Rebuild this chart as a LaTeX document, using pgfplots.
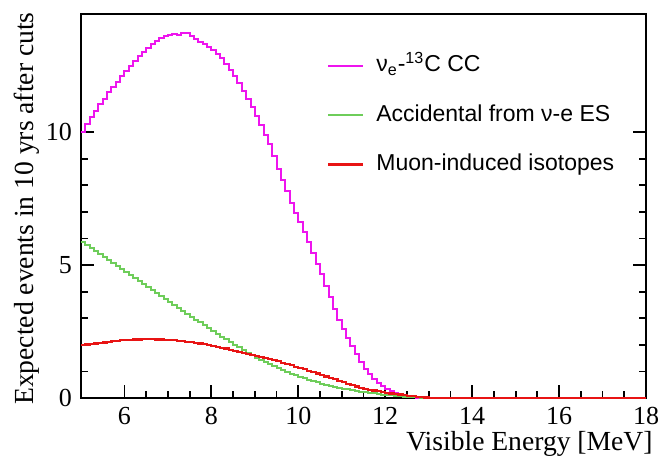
\documentclass[border=0pt]{standalone}
\usepackage{pgfplots}
\pgfplotsset{compat=1.18}
\usepackage{fontspec}
\setmainfont{Liberation Serif}
\newfontfamily\lsans{Liberation Sans}
\definecolor{cmag}{RGB}{238,20,238}
\definecolor{cgrn}{RGB}{110,205,90}
\definecolor{cred}{RGB}{232,20,20}
\pgfplotstableread{
x y
5.0 10.0
5.1 10.3
5.2 10.55
5.3 10.8
5.4 11.05
5.5 11.25
5.6 11.5
5.7 11.7
5.8 11.9
5.9 12.1
6.0 12.3
6.1 12.5
6.2 12.68
6.3 12.85
6.4 13.0
6.5 13.15
6.6 13.3
6.7 13.42
6.8 13.52
6.9 13.6
7.0 13.65
7.1 13.68
7.2 13.66
7.3 13.73
7.4 13.73
7.5 13.6
7.6 13.5
7.7 13.4
7.8 13.3
7.9 13.2
8.0 13.1
8.1 12.95
8.2 12.78
8.3 12.55
8.4 12.35
8.5 12.1
8.6 11.85
8.7 11.55
8.8 11.25
8.9 10.95
9.0 10.6
9.1 10.25
9.2 9.9
9.3 9.55
9.4 9.1
9.5 8.6
9.6 8.2
9.7 7.8
9.8 7.35
9.9 6.95
10.0 6.6
10.1 6.25
10.2 5.85
10.3 5.45
10.4 5.05
10.5 4.65
10.6 4.2
10.7 3.8
10.8 3.35
10.9 2.95
11.0 2.6
11.1 2.25
11.2 1.95
11.3 1.65
11.4 1.35
11.5 1.1
11.6 0.9
11.7 0.72
11.8 0.57
11.9 0.44
12.0 0.33
12.1 0.25
12.2 0.18
12.3 0.12
12.4 0.08
12.5 0.05
12.6 0.03
12.7 0.015
12.8 0.005
12.9 0
18.0 0
}\magtab
\pgfplotstableread{
x y
5.0 5.85
5.1 5.74
5.2 5.63
5.3 5.51
5.4 5.40
5.5 5.29
5.6 5.18
5.7 5.07
5.8 4.96
5.9 4.84
6.0 4.73
6.1 4.62
6.2 4.51
6.3 4.40
6.4 4.28
6.5 4.17
6.6 4.06
6.7 3.95
6.8 3.84
6.9 3.72
7.0 3.61
7.1 3.50
7.2 3.39
7.3 3.28
7.4 3.17
7.5 3.06
7.6 2.95
7.7 2.84
7.8 2.73
7.9 2.62
8.0 2.52
8.1 2.41
8.2 2.31
8.3 2.21
8.4 2.11
8.5 2.01
8.6 1.91
8.7 1.81
8.8 1.71
8.9 1.61
9.0 1.52
9.1 1.43
9.2 1.35
9.3 1.27
9.4 1.19
9.5 1.12
9.6 1.05
9.7 0.98
9.8 0.92
9.9 0.86
10.0 0.80
10.1 0.74
10.2 0.69
10.3 0.64
10.4 0.59
10.5 0.54
10.6 0.50
10.7 0.46
10.8 0.42
10.9 0.38
11.0 0.35
11.1 0.32
11.2 0.29
11.3 0.26
11.4 0.23
11.5 0.21
11.6 0.19
11.7 0.17
11.8 0.15
11.9 0.13
12.0 0.12
12.1 0.10
12.2 0.08
12.3 0.07
12.4 0.05
12.5 0.04
12.6 0.03
12.7 0.02
12.8 0.01
12.9 0.005
13.0 0
18.0 0
}\grntab
\pgfplotstableread{
x y
5.0 1.99
5.1 2.01
5.2 2.03
5.3 2.05
5.4 2.07
5.5 2.09
5.6 2.11
5.7 2.13
5.8 2.15
5.9 2.17
6.0 2.18
6.1 2.19
6.2 2.20
6.3 2.20
6.4 2.21
6.5 2.21
6.6 2.21
6.7 2.20
6.8 2.20
6.9 2.19
7.0 2.18
7.1 2.17
7.2 2.15
7.3 2.14
7.4 2.12
7.5 2.10
7.6 2.07
7.7 2.05
7.8 2.02
7.9 1.99
8.0 1.96
8.1 1.93
8.2 1.89
8.3 1.86
8.4 1.82
8.5 1.78
8.6 1.74
8.7 1.70
8.8 1.66
8.9 1.62
9.0 1.58
9.1 1.54
9.2 1.50
9.3 1.46
9.4 1.42
9.5 1.38
9.6 1.33
9.7 1.28
9.8 1.23
9.9 1.18
10.0 1.13
10.1 1.08
10.2 1.03
10.3 0.97
10.4 0.92
10.5 0.86
10.6 0.81
10.7 0.75
10.8 0.70
10.9 0.64
11.0 0.59
11.1 0.53
11.2 0.48
11.3 0.43
11.4 0.39
11.5 0.35
11.6 0.31
11.7 0.28
11.8 0.25
11.9 0.22
12.0 0.19
12.1 0.17
12.2 0.15
12.3 0.13
12.4 0.11
12.5 0.09
12.6 0.07
12.7 0.05
12.8 0.03
12.9 0.02
13.0 0.01
13.1 0
18.0 0
}\redtab
\begin{document}
\begin{tikzpicture}
\path[use as bounding box] (-40.5pt,-29.5pt) rectangle (291.5pt,199pt);
\begin{axis}[
  at={(0,0)}, anchor=south west,
  scale only axis, width=282.5pt, height=192pt,
  xmin=5, xmax=18, ymin=0, ymax=14.44,
  xtick={6,8,...,18}, minor x tick num=3,
  ytick={0,5,10}, minor y tick num=4,
  xtick pos=bottom, ytick pos=both, yticklabel pos=left,
  tick align=inside,
  major tick length=6.5pt, minor tick length=3.5pt,
  axis line style={line width=1pt},
  every tick/.style={black, line width=0.9pt},
  /pgf/number format/assume math mode=true,
  ticklabel style={font=\fontsize{13}{15}\selectfont},
  xticklabel style={anchor=base, inner sep=0pt, yshift=-13.2pt},
  yticklabel style={xshift=-1pt},
  clip=false,
  legend style={at={(rel axis cs:0.435,0.895)}, anchor=north west, draw=none, fill=none,
    inner sep=0pt, row sep=13.7pt,
    font=\lsans\fontsize{11.5}{13}\selectfont,
    nodes={inner sep=0pt, text height=8.5pt, text depth=2.5pt},
    /tikz/every odd column/.append style={column sep=6pt}},
  legend cell align=left,
  legend image code/.code={\draw[#1] (0pt,0pt) -- (17.5pt,0pt);},
]
\addplot[const plot mark left, cmag, line width=1pt] table[x=x,y=y] {\magtab};
\addlegendentry{ν\textsubscript{e}-\textsuperscript{13}C CC}
\addplot[const plot mark left, cgrn, line width=1pt] table[x=x,y=y] {\grntab};
\addlegendentry{Accidental from ν-e ES}
\addplot[const plot mark left, cred, line width=1.1pt] table[x=x,y=y] {\redtab};
\addlegendentry{Muon-induced isotopes}
\end{axis}
\node[rotate=90, anchor=base east, font=\fontsize{13.8}{16}\selectfont, inner sep=0pt] at (-24pt,193pt) {Expected events in 10 yrs after cuts};
\node[anchor=base east, font=\fontsize{13.8}{16}\selectfont, inner sep=0pt] at (286pt,-26pt) {Visible Energy [MeV]};
\end{tikzpicture}
\end{document}
